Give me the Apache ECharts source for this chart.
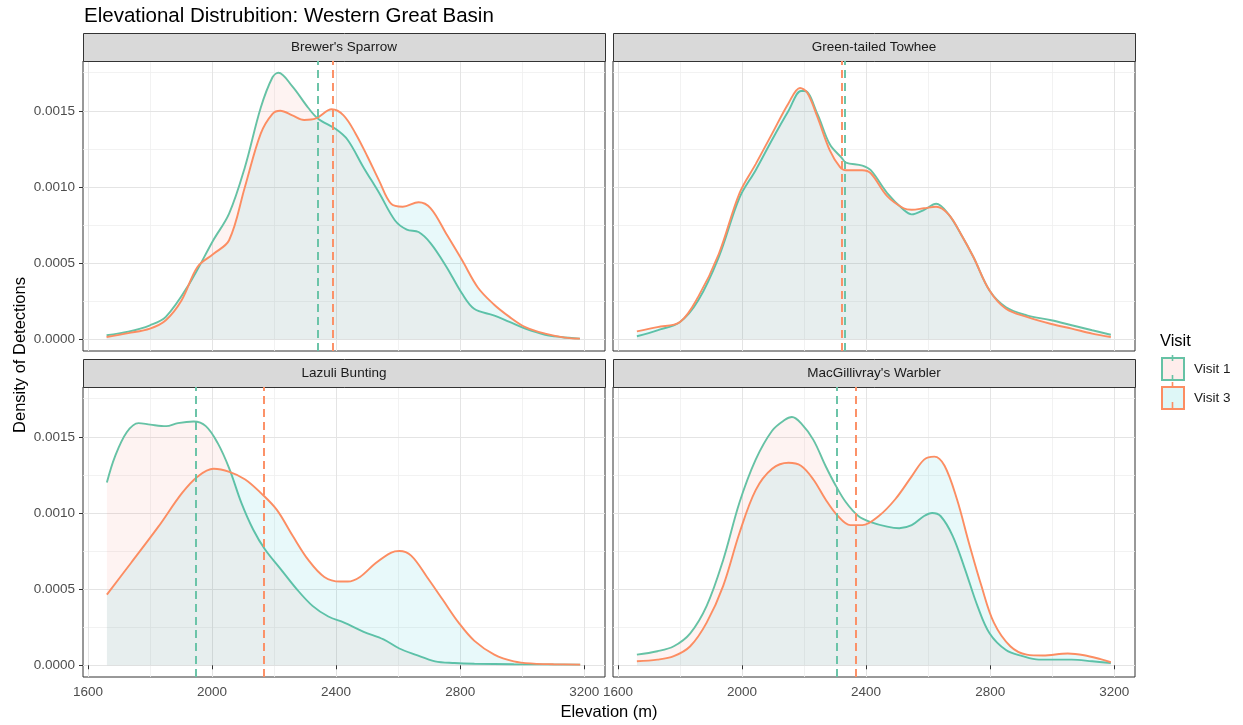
<!DOCTYPE html>
<html>
<head>
<meta charset="utf-8">
<script src="https://cdn.jsdelivr.net/npm/echarts@6/dist/echarts.min.js"></script>
<style>
  html, body { margin: 0; padding: 0; background: #ffffff; }
  #chart { width: 1243px; height: 725px; }
</style>
</head>
<body>
<div id="chart"></div>
<script>
// Facet titles, in panel order (top-left, top-right, bottom-left, bottom-right)
const species = ["Brewer's Sparrow", "Green-tailed Towhee", "Lazuli Bunting", "MacGillivray's Warbler"];
const visits = ["Visit 1", "Visit 3"];

// Density of detections by elevation (m): [elevation, density]
const brewersVisit1 = [[1660,0.000026],[1730,0.00005],[1800,0.000092],[1851,0.000147],[1927,0.000365],[2004,0.00065],[2055,0.000825],[2106,0.00113],[2157,0.00152],[2195,0.00172],[2214,0.00175],[2259,0.00166],[2310,0.00152],[2341,0.00145],[2399,0.00138],[2437,0.00131],[2488,0.00113],[2539,0.00096],[2590,0.00078],[2628,0.00072],[2666,0.000704],[2705,0.00063],[2756,0.000475],[2806,0.0003],[2845,0.0002],[2908,0.000157],[2959,0.000114],[3010,0.00007],[3074,0.00003],[3125,0.000015],[3186,0.000004]];
const brewersVisit3 = [[1660,0.000015],[1730,0.00004],[1800,0.00007],[1851,0.000125],[1902,0.000256],[1953,0.000475],[2004,0.00056],[2055,0.00065],[2106,0.001],[2157,0.00135],[2195,0.00148],[2220,0.0015],[2259,0.00147],[2297,0.00144],[2335,0.00145],[2386,0.00151],[2424,0.00147],[2463,0.00135],[2501,0.0012],[2539,0.00104],[2577,0.00089],[2615,0.00087],[2666,0.0009],[2705,0.00086],[2756,0.00069],[2806,0.00052],[2857,0.00034],[2908,0.00023],[2959,0.000147],[3010,0.00008],[3074,0.000037],[3138,0.000011],[3186,0.000004]];

const towheeVisit1 = [[1661,0.00002],[1727,0.000059],[1800,0.000114],[1859,0.000256],[1925,0.00054],[1992,0.00093],[2044,0.00111],[2097,0.00131],[2150,0.0015],[2190,0.00163],[2203,0.00163],[2243,0.00148],[2283,0.00128],[2322,0.00119],[2335,0.00116],[2388,0.00114],[2415,0.00111],[2468,0.00096],[2521,0.00085],[2547,0.00082],[2587,0.00085],[2626,0.00089],[2666,0.00082],[2706,0.00069],[2746,0.00054],[2798,0.00032],[2851,0.00021],[2918,0.000157],[2997,0.000125],[3063,0.000092],[3129,0.000059],[3189,0.00003]];
const towheeVisit3 = [[1661,0.000052],[1727,0.00008],[1800,0.000114],[1859,0.00028],[1925,0.00056],[1992,0.00096],[2044,0.00115],[2097,0.00135],[2150,0.00155],[2187,0.00165],[2210,0.00162],[2243,0.00146],[2283,0.00124],[2316,0.00113],[2335,0.00111],[2388,0.00111],[2415,0.00109],[2468,0.00094],[2521,0.00086],[2547,0.00085],[2587,0.00086],[2626,0.00087],[2666,0.00082],[2706,0.00069],[2746,0.00054],[2798,0.00032],[2851,0.0002],[2918,0.000147],[2997,0.0001],[3063,0.00007],[3129,0.000037],[3189,0.000015]];

const lazuliVisit1 = [[1661,0.0012],[1687,0.00137],[1725,0.00153],[1763,0.00159],[1801,0.00158],[1852,0.00157],[1890,0.00159],[1941,0.0016],[1980,0.00157],[2018,0.00146],[2056,0.00129],[2094,0.00107],[2133,0.00089],[2171,0.00076],[2222,0.00063],[2273,0.0005],[2324,0.00039],[2375,0.00032],[2426,0.00028],[2489,0.00022],[2553,0.00017],[2604,0.00011],[2655,0.00007],[2719,0.000026],[2782,0.000015],[2846,0.00001],[2973,0.000007],[3187,0.000004]];
const lazuliVisit3 = [[1661,0.000464],[1738,0.00067],[1827,0.00091],[1903,0.00113],[1954,0.00124],[2005,0.00129],[2056,0.00127],[2107,0.00122],[2158,0.00113],[2209,0.00102],[2260,0.00085],[2311,0.00069],[2362,0.00058],[2413,0.00055],[2438,0.00055],[2477,0.00058],[2527,0.00067],[2578,0.00074],[2604,0.00075],[2642,0.00072],[2693,0.00058],[2744,0.00043],[2795,0.00028],[2846,0.00016],[2910,0.00007],[2973,0.000026],[3037,0.000011],[3101,0.000007],[3187,0.000004]];

const warblerVisit1 = [[1661,0.00007],[1727,0.000092],[1780,0.000125],[1833,0.00021],[1886,0.00039],[1939,0.00069],[1992,0.00107],[2044,0.00135],[2097,0.00154],[2137,0.00161],[2161,0.00163],[2190,0.00159],[2230,0.00148],[2269,0.00131],[2302,0.00118],[2335,0.00107],[2375,0.00098],[2415,0.00094],[2468,0.00091],[2507,0.0009],[2547,0.00092],[2587,0.00098],[2613,0.001],[2640,0.00098],[2679,0.00085],[2719,0.00063],[2759,0.00039],[2798,0.00021],[2851,0.0001],[2904,0.00006],[2957,0.000037],[3063,0.000037],[3129,0.000026],[3189,0.000015]];
const warblerVisit3 = [[1661,0.000026],[1727,0.000037],[1780,0.00006],[1833,0.000125],[1886,0.00028],[1939,0.00052],[1992,0.00087],[2044,0.00115],[2097,0.00129],[2150,0.00133],[2190,0.00131],[2230,0.00122],[2269,0.00109],[2309,0.00098],[2349,0.00092],[2388,0.00092],[2441,0.00098],[2494,0.00109],[2547,0.00124],[2587,0.00135],[2620,0.00137],[2653,0.00131],[2693,0.00109],[2732,0.0008],[2772,0.00052],[2812,0.00028],[2865,0.000125],[2918,0.00007],[2970,0.000064],[3050,0.000077],[3103,0.000066],[3156,0.00004],[3189,0.00002]];

// Mean elevation of detections per species (dashed reference lines)
const meanVisit1 = [2341, 2330, 1947, 2304];
const meanVisit3 = [2390, 2322, 2167, 2367];

// Axis ticks
const xMajorTicks = [1600, 2000, 2400, 2800, 3200];
const xMinorTicks = [1800, 2200, 2600, 3000];
const yMajorTicks = [0, 0.0005, 0.001, 0.0015];
const yMinorTicks = [0.00025, 0.00075, 0.00125, 0.00175];

const curves = [
  [brewersVisit1, brewersVisit3],
  [towheeVisit1, towheeVisit3],
  [lazuliVisit1, lazuliVisit3],
  [warblerVisit1, warblerVisit3]
];
const means = [meanVisit1, meanVisit3];

// Styling
const FONT = "'Liberation Sans', Arial, Helvetica, sans-serif";
const lineColors = ['#66C2A5', '#FC8D62'];
const fillColors = ['rgba(248,118,109,0.13)', 'rgba(0,191,196,0.13)'];
const X_RANGE = [1584, 3267];
const Y_RANGE = [-0.000077, 0.001827];

const panelLeft = [83, 613, 83, 613];
const panelTop = [61, 61, 387, 387];
const PANEL_W = 522, PANEL_H = 290, STRIP_H = 28;

const grids = [], xAxes = [], yAxes = [], series = [], graphics = [];

for (let i = 0; i < 4; i++) {
  grids.push({
    left: panelLeft[i], top: panelTop[i], width: PANEL_W, height: PANEL_H,
    show: true, borderColor: '#333333', borderWidth: 1, backgroundColor: 'transparent',
    containLabel: false, outerBoundsMode: 'none'
  });
}

// Major axes (0-3)
for (let i = 0; i < 4; i++) {
  const bottomRow = i >= 2;
  const leftCol = i % 2 === 0;
  xAxes.push({
    type: 'value', gridIndex: i, min: X_RANGE[0], max: X_RANGE[1],
    axisLine: { show: false },
    axisTick: { show: bottomRow, customValues: xMajorTicks, length: 4, lineStyle: { color: '#333333', width: 1 } },
    axisLabel: { show: bottomRow, customValues: xMajorTicks, margin: 8, color: '#4D4D4D', fontSize: 13.5, fontFamily: FONT,
      showMinLabel: true, showMaxLabel: true, formatter: v => String(v) },
    splitLine: { show: true, lineStyle: { color: '#E4E4E4', width: 1 } },
    z: 1
  });
  yAxes.push({
    type: 'value', gridIndex: i, min: Y_RANGE[0], max: Y_RANGE[1],
    axisLine: { show: false },
    axisTick: { show: leftCol, customValues: yMajorTicks, length: 4, lineStyle: { color: '#333333', width: 1 } },
    axisLabel: { show: leftCol, customValues: yMajorTicks, margin: 8, color: '#4D4D4D', fontSize: 13.5, fontFamily: FONT,
      showMinLabel: true, showMaxLabel: true, formatter: v => v.toFixed(4) },
    splitLine: { show: true, lineStyle: { color: '#E4E4E4', width: 1 } },
    z: 1
  });
}
// Minor grid axes (4-7)
for (let i = 0; i < 4; i++) {
  xAxes.push({
    type: 'value', gridIndex: i, min: X_RANGE[0], max: X_RANGE[1],
    axisLine: { show: false },
    axisTick: { show: false, customValues: xMinorTicks },
    axisLabel: { show: false, customValues: xMinorTicks },
    splitLine: { show: true, lineStyle: { color: '#EFEFEF', width: 0.8 } },
    z: 0
  });
  yAxes.push({
    type: 'value', gridIndex: i, min: Y_RANGE[0], max: Y_RANGE[1],
    axisLine: { show: false },
    axisTick: { show: false, customValues: yMinorTicks },
    axisLabel: { show: false, customValues: yMinorTicks },
    splitLine: { show: true, lineStyle: { color: '#EFEFEF', width: 0.8 } },
    z: 0
  });
}

// Density curves with filled areas and dashed mean lines
for (let i = 0; i < 4; i++) {
  for (let v = 0; v < 2; v++) {
    series.push({
      type: 'line',
      name: visits[v],
      xAxisIndex: i, yAxisIndex: i,
      data: curves[i][v],
      smooth: 0.35,
      symbol: 'none',
      lineStyle: { color: lineColors[v], width: 1.9 },
      itemStyle: { color: lineColors[v] },
      areaStyle: { color: fillColors[v], origin: 'auto' },
      emphasis: { disabled: true },
      z: 2 + v,
      markLine: {
        silent: true,
        symbol: ['none', 'none'],
        label: { show: false },
        lineStyle: { color: lineColors[v], type: [8, 5], width: 1.9 },
        emphasis: { disabled: true },
        data: [{ xAxis: means[v][i] }]
      }
    });
  }
}

// Facet strips
for (let i = 0; i < 4; i++) {
  graphics.push({
    type: 'rect',
    shape: { x: panelLeft[i] + 0.5, y: panelTop[i] - STRIP_H + 0.5, width: PANEL_W, height: STRIP_H },
    style: { fill: '#D9D9D9', stroke: '#333333', lineWidth: 1 },
    z: 5, silent: true
  });
  graphics.push({
    type: 'text',
    x: panelLeft[i] + PANEL_W / 2, y: panelTop[i] - STRIP_H / 2 + 0.5,
    style: { text: species[i], fill: '#1A1A1A', font: '13.5px ' + FONT, textAlign: 'center', textVerticalAlign: 'middle' },
    z: 6, silent: true
  });
}

// Plot title and axis titles
graphics.push({
  type: 'text', x: 84, y: 16,
  style: { text: 'Elevational Distrubition: Western Great Basin', fill: '#000000', font: '20.5px ' + FONT, textAlign: 'left', textVerticalAlign: 'middle' },
  z: 6, silent: true
});
graphics.push({
  type: 'text', x: 609, y: 712,
  style: { text: 'Elevation (m)', fill: '#000000', font: '16.5px ' + FONT, textAlign: 'center', textVerticalAlign: 'middle' },
  z: 6, silent: true
});
graphics.push({
  type: 'text', x: 20, y: 355, rotation: Math.PI / 2,
  style: { text: 'Density of Detections', fill: '#000000', font: '16.5px ' + FONT, textAlign: 'center', textVerticalAlign: 'middle' },
  z: 6, silent: true
});

// Legend title and the dashed marks inside the legend keys
graphics.push({
  type: 'text', x: 1160, y: 341,
  style: { text: 'Visit', fill: '#000000', font: '16.5px ' + FONT, textAlign: 'left', textVerticalAlign: 'middle' },
  z: 6, silent: true
});
for (let v = 0; v < 2; v++) {
  const top = 355 + v * 27;
  graphics.push({
    type: 'line',
    shape: { x1: 1172.5, y1: top, x2: 1172.5, y2: top + 27 },
    style: { stroke: lineColors[v], lineWidth: 1.6, lineDash: [6, 14] },
    z: 20, silent: true
  });
}

const chart = echarts.init(document.getElementById('chart'), null, { renderer: 'canvas' });
chart.setOption({
  animation: false,
  backgroundColor: '#ffffff',
  grid: grids,
  xAxis: xAxes,
  yAxis: yAxes,
  legend: {
    orient: 'vertical',
    left: 1161, top: 357,
    padding: 0,
    itemWidth: 22, itemHeight: 22, itemGap: 5,
    selectedMode: false,
    textStyle: { fontSize: 13.5, color: '#1A1A1A', fontFamily: FONT, padding: [0, 0, 0, 5] },
    data: [
      { name: 'Visit 1', icon: 'rect', itemStyle: { color: 'rgba(248,118,109,0.13)', borderColor: lineColors[0], borderWidth: 2 } },
      { name: 'Visit 3', icon: 'rect', itemStyle: { color: 'rgba(0,191,196,0.13)', borderColor: lineColors[1], borderWidth: 2 } }
    ]
  },
  series: series,
  graphic: { elements: graphics }
});
</script>
</body>
</html>
